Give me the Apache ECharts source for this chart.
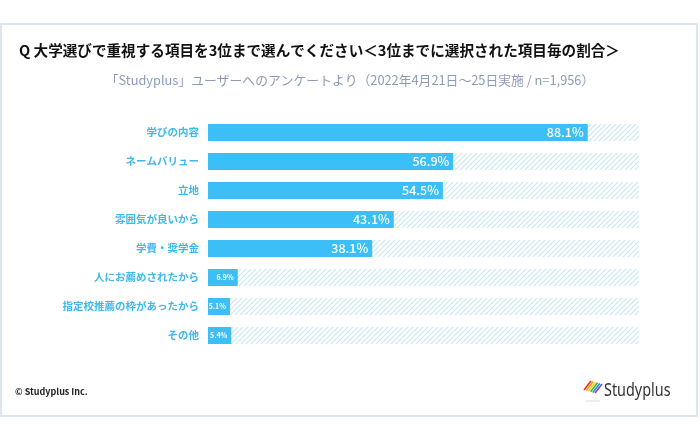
<!DOCTYPE html>
<html><head><meta charset="utf-8">
<script src="https://cdn.jsdelivr.net/npm/echarts@6/dist/echarts.min.js"></script>
<style>html,body{margin:0;padding:0;background:#fff}#c{width:700px;height:442px}</style>
</head><body><div id="c"></div>
<script>
const categories = ['学びの内容','ネームバリュー','立地','雰囲気が良いから','学費・奨学金','人にお薦めされたから','指定校推薦の枠があったから','その他'];
const values = [88.1, 56.9, 54.5, 43.1, 38.1, 6.9, 5.1, 5.4];
const fullScale = [100,100,100,100,100,100,100,100];

const FONT = '"Noto Sans CJK JP","Noto Sans",sans-serif';
// hatch pattern
const pc = document.createElement('canvas');
pc.width = 5; pc.height = 5;
const g = pc.getContext('2d');
g.fillStyle = '#ffffff'; g.fillRect(0,0,5,5);
g.strokeStyle = '#c8e9f6'; g.lineWidth = 1.2;
g.beginPath();
g.moveTo(-1,6); g.lineTo(6,-1);
g.moveTo(-1,1); g.lineTo(1,-1);
g.moveTo(4,6); g.lineTo(6,4);
g.stroke();

const chart = echarts.init(document.getElementById('c'), null, {renderer:'canvas'});
const pencil = ['#e6322d','#f39a1e','#f5d30f','#3db54a','#2a8fd8','#7a4bc2'];
const graphics = [
  {type:'rect', shape:{x:1,y:24,width:696,height:392}, style:{fill:'#fff', stroke:'#dfe5f0', lineWidth:2}, z:-10},
  {type:'text', left:15, top:387, style:{text:'© Studyplus Inc.', font:'bold 9px '+FONT, fill:'#222'}},
  {type:'text', x:604, y:382, scaleX:0.8, style:{text:'Studyplus', font:'18px "Noto Sans",sans-serif', fill:'#333'}},
  {type:'line', shape:{x1:586,y1:401,x2:600,y2:401}, style:{stroke:'#ddd', lineWidth:1}}
];
pencil.forEach((c,i)=>{
  graphics.push({type:'line', shape:{x1:584+i*2.2, y1:390+i*0.6, x2:591+i*2.2, y2:381+i*0.6}, style:{stroke:c, lineWidth:1.6}});
});

chart.setOption({
  animation:false,
  backgroundColor:'#fff',
  title:[
    {text:'Q 大学選びで重視する項目を3位まで選んでください＜3位までに選択された項目毎の割合＞', left:14, top:38,
     textStyle:{fontFamily:FONT, fontSize:14.6, fontWeight:'bold', color:'#111'}},
    {text:'「Studyplus」ユーザーへのアンケートより（2022年4月21日～25日実施 / n=1,956）', left:'center', top:69,
     textStyle:{fontFamily:FONT, fontSize:12.8, fontWeight:'normal', color:'#8c9cb8'}}
  ],
  graphic: graphics,
  grid:{left:208, right:61, top:118, bottom:92},
  xAxis:{type:'value', min:0, max:100, show:false},
  yAxis:{type:'category', data:categories, inverse:true,
    axisLine:{show:false}, axisTick:{show:false},
    axisLabel:{fontFamily:FONT, fontSize:10.5, fontWeight:'bold', color:'#3fb8ec', margin:9}},
  series:[
    {type:'bar', data:fullScale, barWidth:17, barGap:'-100%', silent:true,
     itemStyle:{color:{image:pc, repeat:'repeat'}}, z:1},
    {type:'bar', data:values, barWidth:17, barGap:'-100%', z:2,
     itemStyle:{color:'#3cbff6'},
     label:{show:true, position:'insideRight', distance:4,
       formatter:p=> p.value<10 ? '{s|'+p.value.toFixed(1)+'%}' : '{b|'+p.value.toFixed(1)+'%}',
       rich:{
         b:{fontFamily:FONT, fontSize:12.5, fontWeight:500, color:'#fff'},
         s:{fontFamily:FONT, fontSize:7, fontWeight:'bold', color:'#fff'}
       }}}
  ]
});
</script></body></html>
